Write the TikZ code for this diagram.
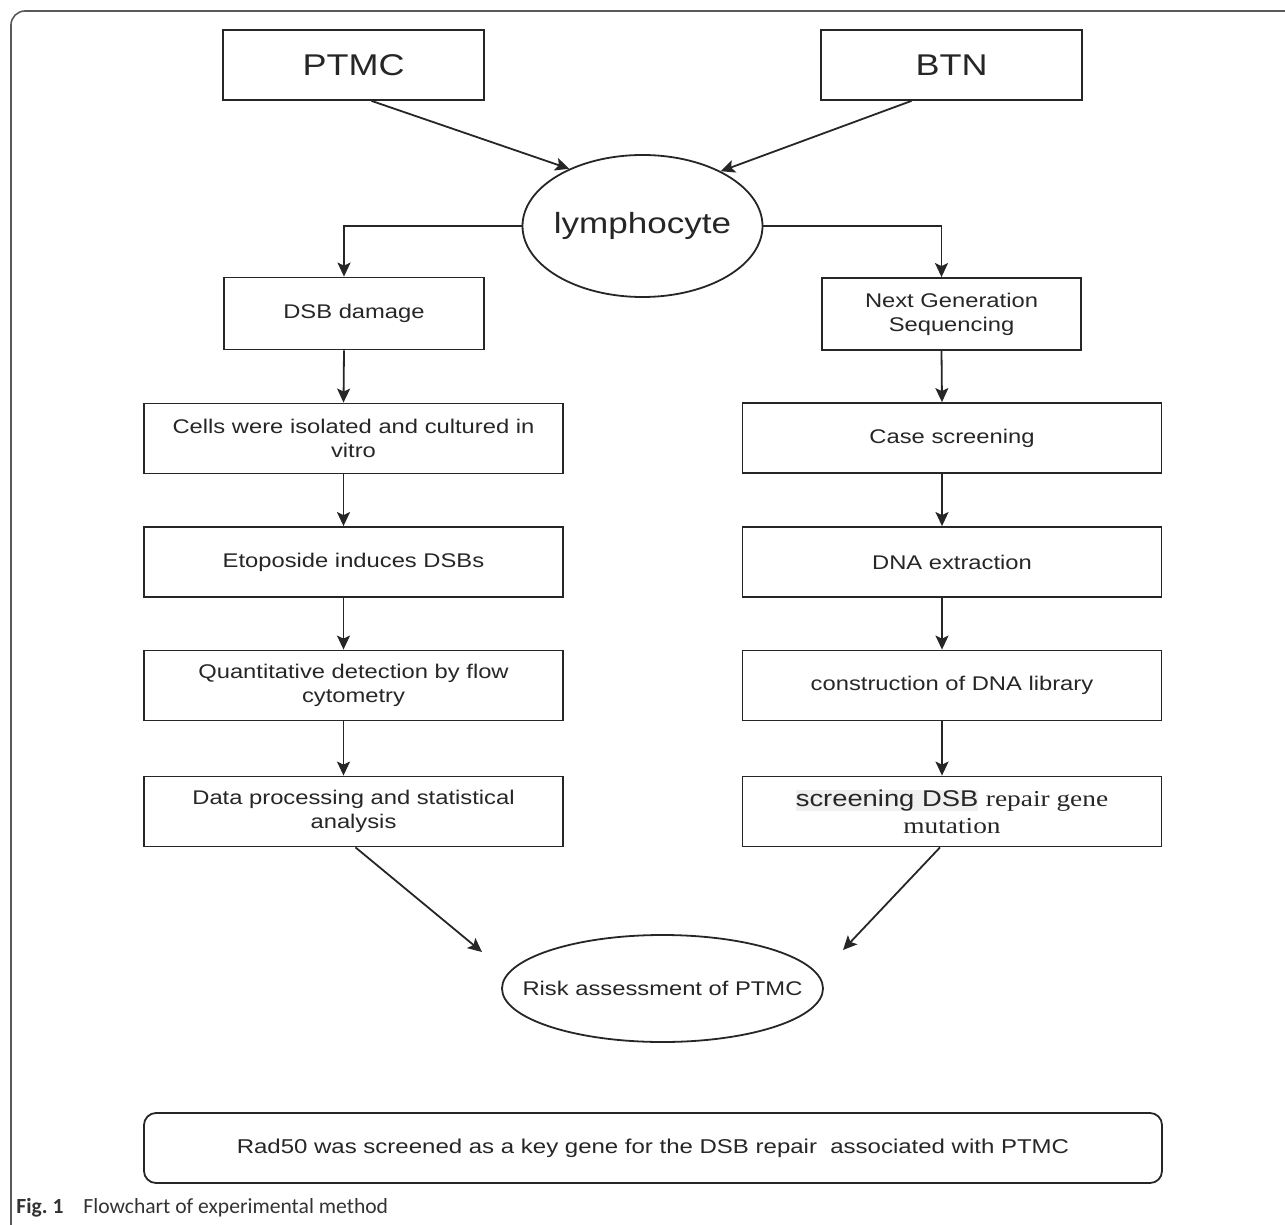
\documentclass[tikz,border=0pt]{standalone}
\usepackage{fontspec}
\usetikzlibrary{arrows.meta,shapes.geometric}
\newfontfamily\boxfont[FakeStretch=1.2]{Liberation Sans}
\newfontfamily\boxserif[FakeStretch=1.2]{Liberation Serif}
\newfontfamily\capfont{Carlito}

\begin{document}
\begin{tikzpicture}[x=0.5pt,y=-0.5pt,
    line/.style={draw=black!85,line width=0.9pt},
    arr/.style={line,-{Stealth[length=7pt,width=6.5pt,inset=1.5pt]}},
    box/.style={line,inner sep=2pt,align=center,text=black!85,
      font=\boxfont\fontsize{9.9}{12}\selectfont},
    topbox/.style={box,minimum width=130.5pt,minimum height=35pt,
      font=\boxfont\fontsize{15}{18}\selectfont},
    colbox/.style={box,minimum width=209.5pt,minimum height=35pt},
    oval/.style={line,ellipse,inner sep=0pt},
    ovaltext/.style={text=black!85,inner sep=0pt}]
      \useasboundingbox (0,0) rectangle (1285,1225) ;
      \draw[black!65,line width=0.8pt,rounded corners=7pt] (11,1225) -- (11,11) -- (1285,11) ;
      % top row
      \node[topbox] (ptmc) at (353.5,65) {PTMC} ;
      \node[topbox] (btn) at (951.5,65) {BTN} ;
      \node[oval,minimum width=120pt,minimum height=71pt] (lympho) at (642.5,226) {} ;
      \node[ovaltext,font=\boxfont\fontsize{14.6}{17}\selectfont] (lymphotxt) at (lympho.center) {lymphocyte} ;
      \node[box,minimum width=130pt,minimum height=36pt] (dsb) at (354,313.5) {DSB damage} ;
      \node[box,minimum width=129.5pt,minimum height=36pt] (ngs) at (951.5,314) {Next Generation\\Sequencing} ;
      % left column
      \node[colbox] (cells) at (353.5,438.5) {Cells were isolated and cultured in\\vitro} ;
      \node[colbox] (etop) at (353.5,562) {Etoposide induces DSBs} ;
      \node[colbox] (flow) at (353.5,685.5) {Quantitative detection by flow\\cytometry} ;
      \node[colbox] (stat) at (353.5,811.5) {Data processing and statistical\\analysis} ;
      % right column
      \node[colbox] (case) at (952,438) {Case screening} ;
      \node[colbox] (dnaex) at (952,562) {DNA extraction} ;
      \node[colbox] (lib) at (952,685.5) {construction of DNA library} ;
      \node[colbox,font=\boxfont\fontsize{11.4}{13.5}\selectfont] (mut) at (952,811.5) %
        {{\setlength\fboxsep{0pt}\colorbox{black!6}{screening DSB}} {\boxserif repair gene}\\{\boxserif mutation}} ;
      % result
      \node[oval,minimum width=160.5pt,minimum height=53.5pt] (risk) at (662.5,988.5) {} ;
      \node[ovaltext,font=\boxfont\fontsize{9.9}{12}\selectfont] (risktxt) at (risk.center) {Risk assessment of PTMC} ;
      \node[line,rounded corners=6pt,minimum width=509pt,minimum height=35pt,text=black!85,%
        font=\boxfont\fontsize{10}{12}\selectfont] (rad) at (653,1148) %
        {Rad50 was screened as a key gene for the DSB repair\ \ associated with PTMC} ;
      \node[anchor=base west,inner sep=0pt,text=black!80,font=\capfont\fontsize{10.8}{12}\selectfont] %
        (cap) at (16,1213) {\textbf{Fig.~1}\hspace{10pt}Flowchart of experimental method} ;
      % connectors
      \coordinate (riskl) at (482,952) ;
      \coordinate (riskr) at (843,950) ;
      \draw[arr] ([xshift=9pt]ptmc.south) -- (lympho.142) ;
      \draw[arr] ([xshift=-20pt]btn.south) -- (lympho.35) ;
      \draw[arr] (lympho.west) -| ([xshift=-5pt]dsb.north) ;
      \draw[arr] (lympho.east) -| ([xshift=-5pt]ngs.north) ;
      \foreach \a/\b in {dsb/cells,cells/etop,etop/flow,flow/stat,ngs/case,case/dnaex,dnaex/lib,lib/mut}
        \draw[arr] ([xshift=-5pt]\a.south) -- ([xshift=-5pt]\b.north) ;
      \draw[arr] ([xshift=1pt]stat.south) -- (riskl) ;
      \draw[arr] ([xshift=-6pt]mut.south) -- (riskr) ;
\end{tikzpicture}
\end{document}
